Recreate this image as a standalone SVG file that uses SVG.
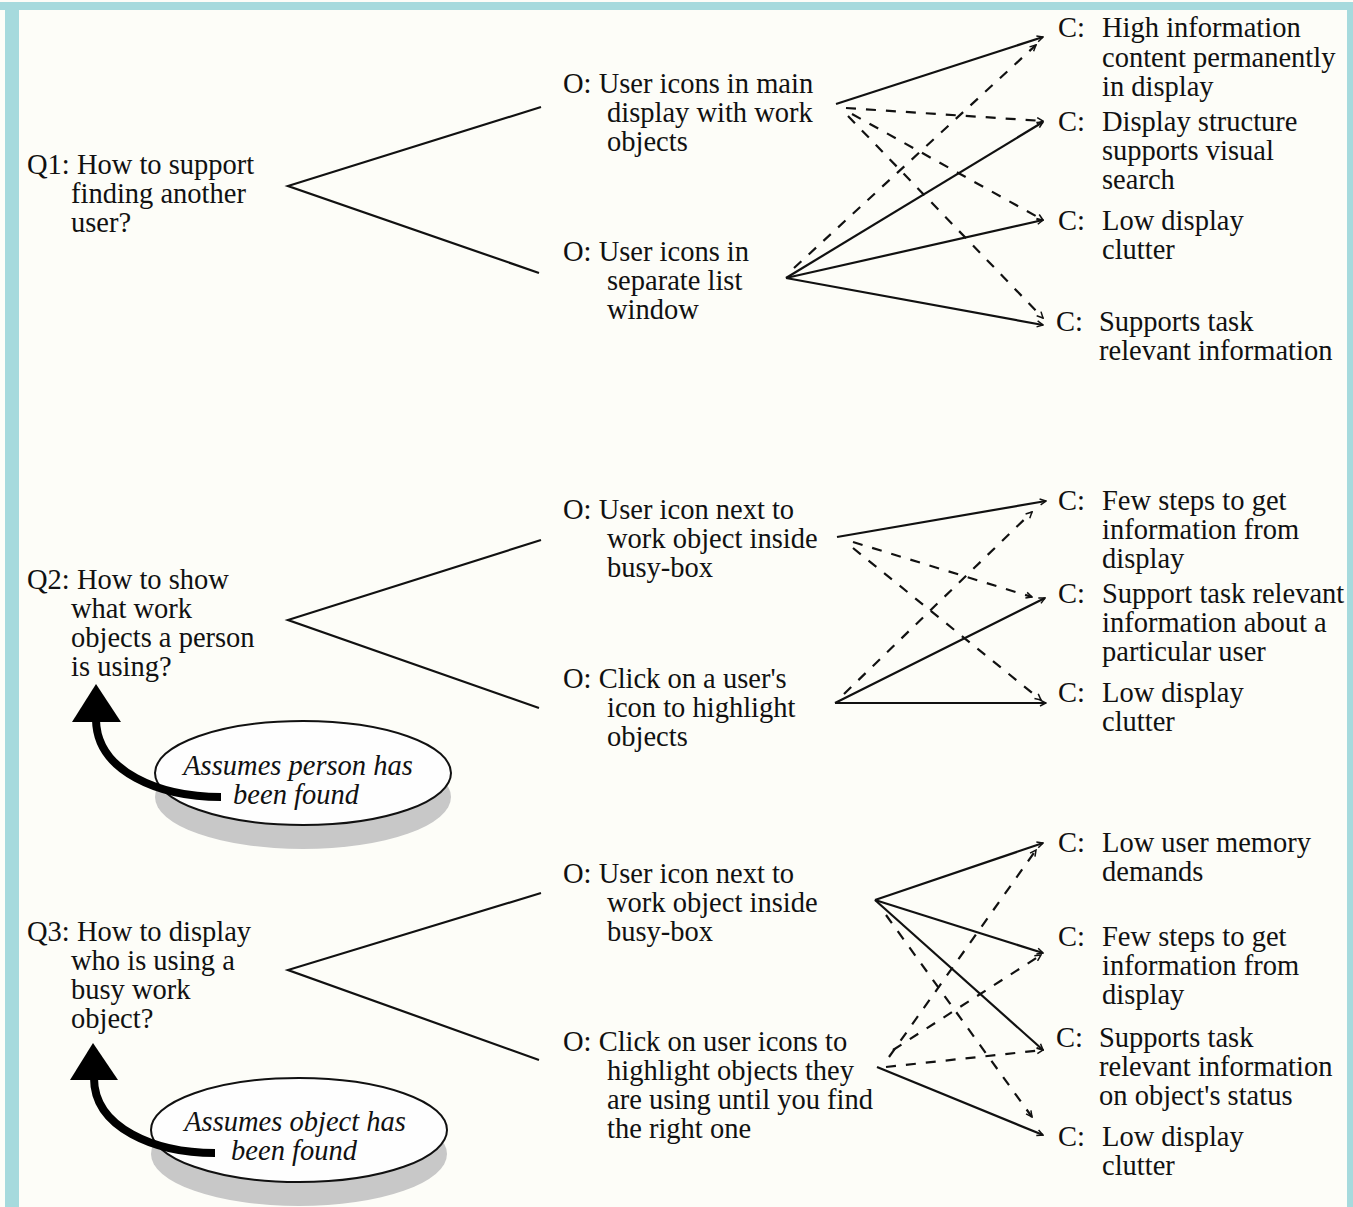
<svg xmlns="http://www.w3.org/2000/svg" width="1353" height="1207" viewBox="0 0 1353 1207">
<style>
text{font-family:"Liberation Serif","Times New Roman",serif;font-size:28.5px;fill:#111}
.it{font-style:italic;text-anchor:middle}
.s{fill:none;stroke:#111;stroke-width:2.2;marker-end:url(#a)}
.d{fill:none;stroke:#111;stroke-width:2.2;stroke-dasharray:10 10;marker-end:url(#a)}
.t{fill:none;stroke:#111;stroke-width:2.2}
.sh{fill:#c8c8c8}
.el{fill:#fefefe;stroke:#111;stroke-width:2}
.ar{fill:none;stroke:#000;stroke-width:8}
</style>
<defs>
<marker id="a" viewBox="0 0 8 8" refX="7" refY="4" markerWidth="8" markerHeight="8" markerUnits="userSpaceOnUse" orient="auto"><path d="M1,1 L7,4 L1,7" fill="none" stroke="#111" stroke-width="1.5"/></marker>
</defs>
<rect x="0" y="0" width="1353" height="1207" fill="#fdfdf8"/>
<rect x="0" y="2" width="1353" height="8" fill="#a6dadd"/>
<rect x="5" y="2" width="14" height="1205" fill="#a6dadd"/>
<rect x="1347" y="2" width="6" height="1205" fill="#a6dadd"/>

<g id="connectors">
<polyline class="t" points="541,107 288,186 539,273"/>
<polyline class="t" points="541,540 288,620 539,708"/>
<polyline class="t" points="541,893 288,970 539,1060"/>
<path class="s" d="M836,104 L1043,37"/>
<path class="d" d="M846,108 L1043,121"/>
<path class="d" d="M852,114 L1043,220"/>
<path class="d" d="M848,116 L1043,318"/>
<path class="s" d="M786,278 L1043,122"/>
<path class="s" d="M786,278 L1043,220"/>
<path class="s" d="M786,278 L1043,325"/>
<path class="d" d="M794,268 L1036,45"/>
<path class="s" d="M837,537 L1046,501"/>
<path class="d" d="M853,542 L1032,597"/>
<path class="d" d="M853,548 L1041,700"/>
<path class="s" d="M835,703 L1045,598"/>
<path class="s" d="M835,703 L1046,703"/>
<path class="d" d="M844,694 L1032,512"/>
<path class="s" d="M875,900 L1043,843"/>
<path class="s" d="M875,900 L1043,953"/>
<path class="s" d="M875,900 L1043,1050"/>
<path class="d" d="M886,915 L1032,1117"/>
<path class="s" d="M877,1067 L1043,1135"/>
<path class="d" d="M889,1057 L1036,850"/>
<path class="d" d="M893,1050 L1041,955"/>
<path class="d" d="M886,1067 L1043,1050"/>
</g>

<g id="q1"><text x="27" y="174">Q1: How to support</text><text x="71" y="203">finding another</text><text x="71" y="232">user?</text></g>
<g id="o1"><text x="563" y="93">O: User icons in main</text><text x="607" y="122">display with work</text><text x="607" y="151">objects</text></g>
<g id="o2"><text x="563" y="261">O: User icons in</text><text x="607" y="290">separate list</text><text x="607" y="319">window</text></g>
<g id="c1a"><text x="1058" y="37">C:</text><text x="1102" y="37">High information</text><text x="1102" y="67">content permanently</text><text x="1102" y="96">in display</text></g>
<g id="c1b"><text x="1058" y="131">C:</text><text x="1102" y="131">Display structure</text><text x="1102" y="160">supports visual</text><text x="1102" y="189">search</text></g>
<g id="c1c"><text x="1058" y="230">C:</text><text x="1102" y="230">Low display</text><text x="1102" y="259">clutter</text></g>
<g id="c1d"><text x="1056" y="331">C:</text><text x="1099" y="331">Supports task</text><text x="1099" y="360">relevant information</text></g>

<g id="q2"><text x="27" y="589">Q2: How to show</text><text x="71" y="618">what work</text><text x="71" y="647">objects a person</text><text x="71" y="676">is using?</text></g>
<g id="o3"><text x="563" y="519">O: User icon next to</text><text x="607" y="548">work object inside</text><text x="607" y="577">busy-box</text></g>
<g id="o4"><text x="563" y="688">O: Click on a user's</text><text x="607" y="717">icon to highlight</text><text x="607" y="746">objects</text></g>
<g id="c2a"><text x="1058" y="510">C:</text><text x="1102" y="510">Few steps to get</text><text x="1102" y="539">information from</text><text x="1102" y="568">display</text></g>
<g id="c2b"><text x="1058" y="603">C:</text><text x="1102" y="603">Support task relevant</text><text x="1102" y="632">information about a</text><text x="1102" y="661">particular user</text></g>
<g id="c2c"><text x="1058" y="702">C:</text><text x="1102" y="702">Low display</text><text x="1102" y="731">clutter</text></g>

<g id="q3"><text x="27" y="941">Q3: How to display</text><text x="71" y="970">who is using a</text><text x="71" y="999">busy work</text><text x="71" y="1028">object?</text></g>
<g id="o5"><text x="563" y="883">O: User icon next to</text><text x="607" y="912">work object inside</text><text x="607" y="941">busy-box</text></g>
<g id="o6"><text x="563" y="1051">O: Click on user icons to</text><text x="607" y="1080">highlight objects they</text><text x="607" y="1109">are using until you find</text><text x="607" y="1138">the right one</text></g>
<g id="c3a"><text x="1058" y="852">C:</text><text x="1102" y="852">Low user memory</text><text x="1102" y="881">demands</text></g>
<g id="c3b"><text x="1058" y="946">C:</text><text x="1102" y="946">Few steps to get</text><text x="1102" y="975">information from</text><text x="1102" y="1004">display</text></g>
<g id="c3c"><text x="1056" y="1047">C:</text><text x="1099" y="1047">Supports task</text><text x="1099" y="1076">relevant information</text><text x="1099" y="1105">on object's status</text></g>
<g id="c3d"><text x="1058" y="1146">C:</text><text x="1102" y="1146">Low display</text><text x="1102" y="1175">clutter</text></g>

<g id="note1">
<ellipse class="sh" cx="303" cy="797" rx="148" ry="52"/>
<ellipse class="el" cx="303" cy="773" rx="148" ry="52"/>
<text class="it" x="298" y="775">Assumes person has</text>
<text class="it" x="296" y="804">been found</text>
<path class="ar" d="M221,797 C160,797 97,772 96,720"/>
<polygon points="96,684 72,722 121,722" fill="#000"/>
</g>
<g id="note2">
<ellipse class="sh" cx="299" cy="1154" rx="148" ry="52"/>
<ellipse class="el" cx="299" cy="1130" rx="148" ry="52"/>
<text class="it" x="295" y="1131">Assumes object has</text>
<text class="it" x="294" y="1160">been found</text>
<path class="ar" d="M215,1153 C155,1153 94,1128 94,1078"/>
<polygon points="93,1043 70,1080 118,1080" fill="#000"/>
</g>
</svg>
